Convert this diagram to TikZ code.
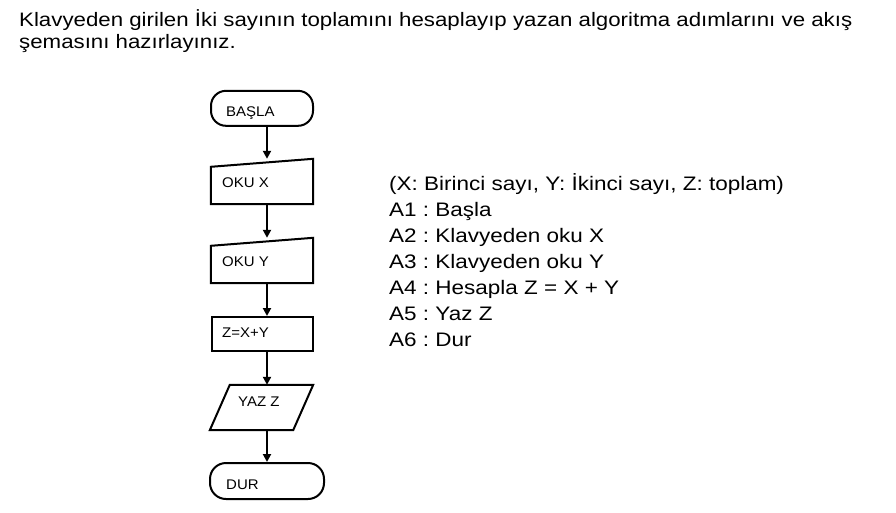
\documentclass[tikz,border=0pt]{standalone}
\usepackage{fontspec}
\setmainfont{Liberation Sans}
\newfontfamily\headfont[FakeStretch=1.145]{Liberation Sans}
\newfontfamily\stepfont[FakeStretch=1.15]{Liberation Sans}
\newfontfamily\boxfont[FakeStretch=1.07]{Liberation Sans}
\usetikzlibrary{arrows.meta}
\frenchspacing
\begin{document}
\begin{tikzpicture}[x=1pt,y=-1pt,
  shp/.style={draw=black, line width=2pt, inner sep=0pt},
  ghost/.style={inner sep=0pt},
  lbl/.style={inner sep=0pt, anchor=base west, font=\boxfont\fontsize{14}{16}\selectfont},
  txt/.style={inner sep=0pt, anchor=base west, font=\stepfont\fontsize{19.55}{22}\selectfont},
  head/.style={inner sep=0pt, anchor=base west, font=\headfont\fontsize{19.45}{22}\selectfont},
  arr/.style={line width=2pt, -{Triangle[length=8pt,width=8pt]}}]
\useasboundingbox (0,0) rectangle (896,512);
% heading
\node[head] (h1) at (19,26.7) {Klavyeden girilen İki sayının toplamını hesaplayıp yazan algoritma adımlarını ve akış};
\node[head] (h2) at (19,48.3) {şemasını hazırlayınız.};
% flowchart shapes
\node[shp, rounded corners=15pt, minimum width=102pt, minimum height=35pt] (basla) at (262,108.3) {};
\node[ghost, minimum width=102pt, minimum height=45pt] (okux) at (262,181.5) {};
\draw[line width=2pt, line join=miter] (okux.south west) -- (okux.south east) -- (okux.north east) -- ([yshift=-8pt]okux.north west) -- cycle;
\node[ghost, minimum width=102pt, minimum height=45pt] (okuy) at (262,260.5) {};
\draw[line width=2pt, line join=miter] (okuy.south west) -- (okuy.south east) -- (okuy.north east) -- ([yshift=-8pt]okuy.north west) -- cycle;
\node[shp, minimum width=101pt, minimum height=34pt] (zxy) at (262.5,334) {};
\node[ghost, minimum width=103pt, minimum height=45pt] (yaz) at (261.5,407.5) {};
\draw[line width=2pt, line join=miter] (yaz.south west) -- ([xshift=-20pt]yaz.south east) -- (yaz.north east) -- ([xshift=20pt]yaz.north west) -- cycle;
\node[shp, rounded corners=16pt, minimum width=114pt, minimum height=36pt] (dur) at (267,481) {};
% labels
\node[lbl] (t1) at (226,116.5) {BAŞLA};
\node[lbl] (t2) at (222,187) {OKU X};
\node[lbl] (t3) at (222,266) {OKU Y};
\node[lbl] (t4) at (222,337.7) {Z=X+Y};
\node[lbl] (t5) at (238,406) {YAZ Z};
\node[lbl] (t6) at (226,489.3) {DUR};
% connectors
\draw[arr] ([xshift=5pt]basla.south) -- ([xshift=5pt]okux.north);
\draw[arr] ([xshift=5pt]okux.south) -- ([xshift=5pt]okuy.north);
\draw[arr] ([xshift=5pt]okuy.south) -- ([xshift=4.5pt]zxy.north);
\draw[arr] ([xshift=4.5pt]zxy.south) -- ([xshift=5.5pt]yaz.north);
\draw[arr] ([xshift=5.5pt]yaz.south) -- (dur.north);
% algorithm text
\node[txt] (a0) at (389,190.5) {(X: Birinci sayı, Y: İkinci sayı, Z: toplam)};
\node[txt] (a1) at (389,216.5) {A1 : Başla};
\node[txt] (a2) at (389,242.5) {A2 : Klavyeden oku X};
\node[txt] (a3) at (389,268.5) {A3 : Klavyeden oku Y};
\node[txt] (a4) at (389,294.5) {A4 : Hesapla Z = X + Y};
\node[txt] (a5) at (389,320.5) {A5 : Yaz Z};
\node[txt] (a6) at (389,346.5) {A6 : Dur};
\end{tikzpicture}
\end{document}
